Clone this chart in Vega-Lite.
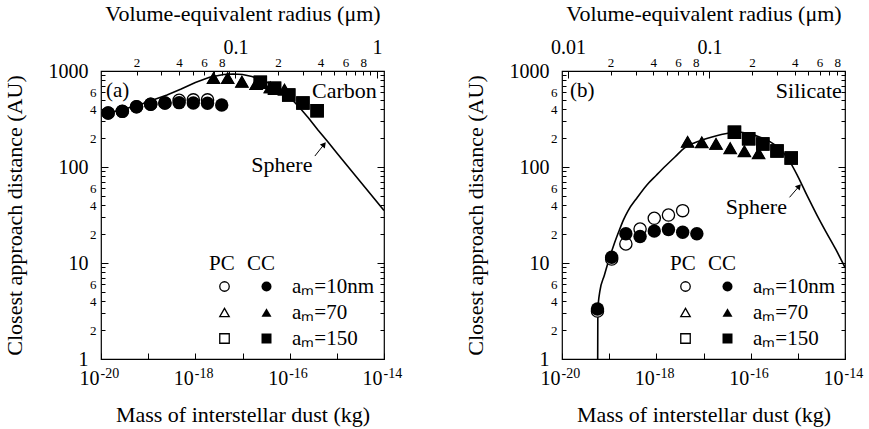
{
  "$schema": "https://vega.github.io/schema/vega-lite/v6.json",
  "padding": {"left": 2, "top": 1, "right": 2, "bottom": 2},
  "config": {
    "font": "Liberation Serif",
    "view": {"stroke": "black", "strokeWidth": 1.2},
    "axis": {"labelFont": "Liberation Serif", "titleFont": "Liberation Serif", "labelColor": "black", "titleColor": "black", "tickColor": "black", "titleFontWeight": "normal", "titleFontSize": 22, "grid": false, "domain": false, "tickWidth": 1},
    "legend": {"labelFont": "Liberation Serif", "titleFont": "Liberation Serif", "titleFontWeight": "normal", "titleFontSize": 21, "labelFontSize": 21, "labelColor": "black", "titleColor": "black"},
    "text": {"font": "Liberation Serif", "fontSize": 22, "color": "black"}
  },
  "datasets": {
    "sphereA": [
      {"mass": 1.416e-20, "distance": 365}, {"mass": 3.16e-20, "distance": 402}, {"mass": 6.31e-20, "distance": 443},
      {"mass": 1.26e-19, "distance": 499}, {"mass": 2.51e-19, "distance": 562}, {"mass": 5.01e-19, "distance": 649},
      {"mass": 1e-18, "distance": 759}, {"mass": 2e-18, "distance": 860}, {"mass": 3.98e-18, "distance": 920},
      {"mass": 6.31e-18, "distance": 931}, {"mass": 1e-17, "distance": 920}, {"mass": 1.585e-17, "distance": 877},
      {"mass": 2.51e-17, "distance": 815}, {"mass": 3.98e-17, "distance": 733}, {"mass": 6.31e-17, "distance": 645},
      {"mass": 1e-16, "distance": 535}, {"mass": 1.585e-16, "distance": 422}, {"mass": 2.51e-16, "distance": 324},
      {"mass": 3.98e-16, "distance": 243}, {"mass": 6.31e-16, "distance": 185}, {"mass": 1e-15, "distance": 140},
      {"mass": 1.585e-15, "distance": 106}, {"mass": 2.51e-15, "distance": 80.5}, {"mass": 3.98e-15, "distance": 61},
      {"mass": 6.31e-15, "distance": 46.4}, {"mass": 1e-14, "distance": 35.2}
    ],
    "sphereB": [
      {"mass": 5.69e-20, "distance": 0.5}, {"mass": 5.75e-20, "distance": 3.2}, {"mass": 6.31e-20, "distance": 5.0},
      {"mass": 7.94e-20, "distance": 7.5}, {"mass": 1e-19, "distance": 11.0}, {"mass": 1.26e-19, "distance": 15.5},
      {"mass": 1.585e-19, "distance": 21}, {"mass": 2e-19, "distance": 28}, {"mass": 2.51e-19, "distance": 35},
      {"mass": 3.98e-19, "distance": 48.4}, {"mass": 6.31e-19, "distance": 65}, {"mass": 1e-18, "distance": 82},
      {"mass": 1.585e-18, "distance": 103}, {"mass": 2.51e-18, "distance": 128}, {"mass": 3.98e-18, "distance": 158},
      {"mass": 6.31e-18, "distance": 178}, {"mass": 1e-17, "distance": 193}, {"mass": 1.585e-17, "distance": 207},
      {"mass": 2.51e-17, "distance": 219}, {"mass": 3.98e-17, "distance": 229}, {"mass": 5.01e-17, "distance": 232},
      {"mass": 6.31e-17, "distance": 230}, {"mass": 1e-16, "distance": 220}, {"mass": 1.585e-16, "distance": 204},
      {"mass": 2.51e-16, "distance": 185}, {"mass": 3.98e-16, "distance": 157}, {"mass": 6.31e-16, "distance": 120},
      {"mass": 1e-15, "distance": 80}, {"mass": 1.585e-15, "distance": 50}, {"mass": 2.51e-15, "distance": 32},
      {"mass": 3.98e-15, "distance": 21}, {"mass": 6.31e-15, "distance": 14}, {"mass": 1e-14, "distance": 9.0}
    ],
    "pointsA": [
      {"type": "PC", "am": "aₘ=10nm", "mass": 1.416e-20, "distance": 365},
      {"type": "PC", "am": "aₘ=10nm", "mass": 2.831e-20, "distance": 380},
      {"type": "PC", "am": "aₘ=10nm", "mass": 5.662e-20, "distance": 425},
      {"type": "PC", "am": "aₘ=10nm", "mass": 1.132e-19, "distance": 450},
      {"type": "PC", "am": "aₘ=10nm", "mass": 2.265e-19, "distance": 464},
      {"type": "PC", "am": "aₘ=10nm", "mass": 4.53e-19, "distance": 495},
      {"type": "PC", "am": "aₘ=10nm", "mass": 9.06e-19, "distance": 500},
      {"type": "PC", "am": "aₘ=10nm", "mass": 1.812e-18, "distance": 500},
      {"type": "PC", "am": "aₘ=70", "mass": 2.427e-18, "distance": 845},
      {"type": "PC", "am": "aₘ=70", "mass": 4.853e-18, "distance": 845},
      {"type": "PC", "am": "aₘ=70", "mass": 9.705e-18, "distance": 774},
      {"type": "PC", "am": "aₘ=70", "mass": 1.941e-17, "distance": 732},
      {"type": "PC", "am": "aₘ=70", "mass": 3.882e-17, "distance": 676},
      {"type": "PC", "am": "aₘ=70", "mass": 7.763e-17, "distance": 639},
      {"type": "PC", "am": "aₘ=150", "mass": 2.388e-17, "distance": 762},
      {"type": "PC", "am": "aₘ=150", "mass": 4.775e-17, "distance": 661},
      {"type": "PC", "am": "aₘ=150", "mass": 9.55e-17, "distance": 562},
      {"type": "PC", "am": "aₘ=150", "mass": 1.91e-16, "distance": 464},
      {"type": "PC", "am": "aₘ=150", "mass": 3.82e-16, "distance": 386},
      {"type": "CC", "am": "aₘ=10nm", "mass": 1.416e-20, "distance": 365},
      {"type": "CC", "am": "aₘ=10nm", "mass": 2.831e-20, "distance": 380},
      {"type": "CC", "am": "aₘ=10nm", "mass": 5.662e-20, "distance": 425},
      {"type": "CC", "am": "aₘ=10nm", "mass": 1.132e-19, "distance": 450},
      {"type": "CC", "am": "aₘ=10nm", "mass": 2.265e-19, "distance": 464},
      {"type": "CC", "am": "aₘ=10nm", "mass": 4.53e-19, "distance": 468},
      {"type": "CC", "am": "aₘ=10nm", "mass": 9.06e-19, "distance": 464},
      {"type": "CC", "am": "aₘ=10nm", "mass": 1.812e-18, "distance": 461},
      {"type": "CC", "am": "aₘ=10nm", "mass": 3.624e-18, "distance": 443},
      {"type": "CC", "am": "aₘ=70", "mass": 2.427e-18, "distance": 845},
      {"type": "CC", "am": "aₘ=70", "mass": 4.853e-18, "distance": 845},
      {"type": "CC", "am": "aₘ=70", "mass": 9.705e-18, "distance": 774},
      {"type": "CC", "am": "aₘ=70", "mass": 1.941e-17, "distance": 732},
      {"type": "CC", "am": "aₘ=70", "mass": 3.882e-17, "distance": 676},
      {"type": "CC", "am": "aₘ=70", "mass": 7.763e-17, "distance": 639},
      {"type": "CC", "am": "aₘ=150", "mass": 2.388e-17, "distance": 762},
      {"type": "CC", "am": "aₘ=150", "mass": 4.775e-17, "distance": 661},
      {"type": "CC", "am": "aₘ=150", "mass": 9.55e-17, "distance": 562},
      {"type": "CC", "am": "aₘ=150", "mass": 1.91e-16, "distance": 464},
      {"type": "CC", "am": "aₘ=150", "mass": 3.82e-16, "distance": 386}
    ],
    "pointsB": [
      {"type": "PC", "am": "aₘ=10nm", "mass": 5.65e-20, "distance": 3.16},
      {"type": "PC", "am": "aₘ=10nm", "mass": 1.13e-19, "distance": 11.0},
      {"type": "PC", "am": "aₘ=10nm", "mass": 2.26e-19, "distance": 15.8},
      {"type": "PC", "am": "aₘ=10nm", "mass": 4.52e-19, "distance": 22.6},
      {"type": "PC", "am": "aₘ=10nm", "mass": 9.04e-19, "distance": 29.2},
      {"type": "PC", "am": "aₘ=10nm", "mass": 1.808e-18, "distance": 31.6},
      {"type": "PC", "am": "aₘ=10nm", "mass": 3.616e-18, "distance": 35.1},
      {"type": "PC", "am": "aₘ=70", "mass": 4.603e-18, "distance": 183},
      {"type": "PC", "am": "aₘ=70", "mass": 9.2e-18, "distance": 181},
      {"type": "PC", "am": "aₘ=70", "mass": 1.841e-17, "distance": 174},
      {"type": "PC", "am": "aₘ=70", "mass": 3.681e-17, "distance": 157},
      {"type": "PC", "am": "aₘ=70", "mass": 7.36e-17, "distance": 146},
      {"type": "PC", "am": "aₘ=70", "mass": 1.472e-16, "distance": 139},
      {"type": "PC", "am": "aₘ=150", "mass": 4.53e-17, "distance": 230},
      {"type": "PC", "am": "aₘ=150", "mass": 9.06e-17, "distance": 197},
      {"type": "PC", "am": "aₘ=150", "mass": 1.81e-16, "distance": 174},
      {"type": "PC", "am": "aₘ=150", "mass": 3.62e-16, "distance": 147},
      {"type": "PC", "am": "aₘ=150", "mass": 7.24e-16, "distance": 124},
      {"type": "CC", "am": "aₘ=10nm", "mass": 5.65e-20, "distance": 3.32},
      {"type": "CC", "am": "aₘ=10nm", "mass": 1.13e-19, "distance": 11.5},
      {"type": "CC", "am": "aₘ=10nm", "mass": 2.26e-19, "distance": 20.2},
      {"type": "CC", "am": "aₘ=10nm", "mass": 4.52e-19, "distance": 18.9},
      {"type": "CC", "am": "aₘ=10nm", "mass": 9.04e-19, "distance": 21.5},
      {"type": "CC", "am": "aₘ=10nm", "mass": 1.808e-18, "distance": 22.3},
      {"type": "CC", "am": "aₘ=10nm", "mass": 3.616e-18, "distance": 20.9},
      {"type": "CC", "am": "aₘ=10nm", "mass": 7.23e-18, "distance": 20.2},
      {"type": "CC", "am": "aₘ=70", "mass": 4.603e-18, "distance": 183},
      {"type": "CC", "am": "aₘ=70", "mass": 9.2e-18, "distance": 181},
      {"type": "CC", "am": "aₘ=70", "mass": 1.841e-17, "distance": 174},
      {"type": "CC", "am": "aₘ=70", "mass": 3.681e-17, "distance": 157},
      {"type": "CC", "am": "aₘ=70", "mass": 7.36e-17, "distance": 146},
      {"type": "CC", "am": "aₘ=70", "mass": 1.472e-16, "distance": 139},
      {"type": "CC", "am": "aₘ=150", "mass": 4.53e-17, "distance": 230},
      {"type": "CC", "am": "aₘ=150", "mass": 9.06e-17, "distance": 197},
      {"type": "CC", "am": "aₘ=150", "mass": 1.81e-16, "distance": 174},
      {"type": "CC", "am": "aₘ=150", "mass": 3.62e-16, "distance": 147},
      {"type": "CC", "am": "aₘ=150", "mass": 7.24e-16, "distance": 124}
    ]
  },
  "hconcat": [
    {
      "width": 283, "height": 288,
      "layer": [
        {
          "layer": [
            {
              "data": {"name": "sphereA"},
              "mark": {"type": "line", "color": "black", "strokeWidth": 1.6, "clip": true},
              "encoding": {
                "x": {"field": "mass", "type": "quantitative", "scale": {"type": "log", "domain": [1e-20, 1e-14], "nice": false},
                  "axis": {"orient": "bottom", "title": "Mass of interstellar dust (kg)", "values": [1e-20, 1e-19, 1e-18, 1e-17, 1e-16, 1e-15, 1e-14],
                    "labelExpr": "abs(round(log(datum.value)/LN10)) % 2 == 0 ? '10' : ''",
                    "labelAlign": "right", "labelOffset": -2,
                    "labelFontSize": 20, "tickSize": -6, "labelPadding": 15, "titlePadding": 16, "labelFlush": false, "labelOverlap": false}},
                "y": {"field": "distance", "type": "quantitative", "scale": {"type": "log", "domain": [1, 1000], "nice": false},
                  "axis": {"orient": "left", "title": "Closest approach distance (AU)",
                    "values": [1, 2, 3, 4, 5, 6, 7, 8, 9, 10, 20, 30, 40, 50, 60, 70, 80, 90, 100, 200, 300, 400, 500, 600, 700, 800, 900, 1000],
                    "labelExpr": "round(datum.value/pow(10,floor(log(datum.value)/LN10+1e-6)))==1 ? format(datum.value,'d') : (indexof([2,4,6], round(datum.value/pow(10,floor(log(datum.value)/LN10+1e-6))))>=0 ? ''+round(datum.value/pow(10,floor(log(datum.value)/LN10+1e-6))) : '')",
                    "labelFontSize": {"condition": {"test": "round(datum.value/pow(10,floor(log(datum.value)/LN10+1e-6)))==1", "value": 20}, "value": 13},
                    "tickSize": {"condition": {"test": "round(datum.value/pow(10,floor(log(datum.value)/LN10+1e-6)))==1", "value": -7}, "value": -4},
                    "labelPadding": {"condition": {"test": "round(datum.value/pow(10,floor(log(datum.value)/LN10+1e-6)))==1", "value": 20}, "value": 9},
                    "titlePadding": 22, "labelFlush": false, "labelOverlap": false}}
              }
            },
            {
              "data": {"name": "pointsA"},
              "transform": [{"filter": "datum.type === 'PC'"}],
              "mark": {"type": "point", "filled": false, "fill": "white", "stroke": "black", "strokeWidth": 1.3, "opacity": 1, "size": 150},
              "encoding": {
                "x": {"field": "mass", "type": "quantitative"},
                "y": {"field": "distance", "type": "quantitative"},
                "shape": {"field": "am", "type": "nominal", "scale": {"domain": ["aₘ=10nm", "aₘ=70", "aₘ=150"], "range": ["circle", "triangle-up", "square"]},
                  "legend": {"orient": "none", "legendX": 108, "legendY": 182, "title": "PC", "labelExpr": "''", "symbolSize": 90, "symbolOffset": 5, "rowPadding": 4, "titlePadding": 2, "symbolStrokeWidth": 1.3}}
              }
            },
            {
              "data": {"name": "pointsA"},
              "transform": [{"filter": "datum.type === 'CC'"}],
              "mark": {"type": "point", "filled": true, "fill": "black", "strokeWidth": 0, "opacity": 1, "size": 180},
              "encoding": {
                "x": {"field": "mass", "type": "quantitative"},
                "y": {"field": "distance", "type": "quantitative"},
                "shape": {"field": "am", "type": "nominal", "scale": {"domain": ["aₘ=10nm", "aₘ=70", "aₘ=150"], "range": ["circle", "triangle-up", "square"]},
                  "legend": {"orient": "none", "legendX": 146, "legendY": 182, "title": "CC", "symbolSize": 100, "symbolOffset": 9, "labelOffset": 15, "rowPadding": 4, "titlePadding": 2}}
              }
            },
            {
              "data": {"values": [{}]},
              "mark": {"type": "text", "align": "left", "baseline": "middle", "fontSize": 21},
              "encoding": {"x": {"datum": 1.277e-20, "type": "quantitative"}, "y": {"datum": 619, "type": "quantitative"}, "text": {"value": "(a)"}}
            },
            {
              "data": {"values": [{}]},
              "mark": {"type": "text", "align": "right", "baseline": "middle"},
              "encoding": {"x": {"datum": 7.03e-15, "type": "quantitative"}, "y": {"datum": 619, "type": "quantitative"}, "text": {"value": "Carbon"}}
            },
            {
              "data": {"values": [{}]},
              "mark": {"type": "text", "align": "center", "baseline": "middle"},
              "encoding": {"x": {"datum": 6.84e-17, "type": "quantitative"}, "y": {"datum": 105, "type": "quantitative"}, "text": {"value": "Sphere"}}
            },
            {
              "data": {"values": [{}]},
              "mark": {"type": "rule", "color": "black", "strokeWidth": 1},
              "encoding": {"x": {"datum": 3.42e-16, "type": "quantitative"}, "y": {"datum": 130, "type": "quantitative"}, "x2": {"datum": 5.36e-16}, "y2": {"datum": 172}}
            },
            {
              "data": {"values": [{}]},
              "mark": {"type": "point", "shape": "triangle-up", "filled": true, "color": "black", "opacity": 1, "size": 40, "angle": 38},
              "encoding": {"x": {"datum": 5.36e-16, "type": "quantitative"}, "y": {"datum": 172, "type": "quantitative"}}
            }
          ],
          "resolve": {"legend": {"shape": "independent"}}
        },
        {
          "data": {"values": [{"r": 0.1, "distance": 10}]},
          "mark": {"type": "point", "opacity": 0},
          "encoding": {
            "x": {"field": "r", "type": "quantitative", "scale": {"type": "log", "domain": [0.01122, 1.122], "nice": false},
              "axis": {"orient": "top", "title": "Volume-equivalent radius (μm)",
                "values": [0.02, 0.03, 0.04, 0.05, 0.06, 0.07, 0.08, 0.09, 0.1, 0.2, 0.3, 0.4, 0.5, 0.6, 0.7, 0.8, 0.9, 1],
                "labelExpr": "round(datum.value/pow(10,floor(log(datum.value)/LN10+1e-6)))==1 ? ''+datum.value : (indexof([2,4,6,8], round(datum.value/pow(10,floor(log(datum.value)/LN10+1e-6))))>=0 ? ''+round(datum.value/pow(10,floor(log(datum.value)/LN10+1e-6))) : '')",
                "labelFontSize": {"condition": {"test": "round(datum.value/pow(10,floor(log(datum.value)/LN10+1e-6)))==1", "value": 20}, "value": 13},
                "tickSize": {"condition": {"test": "round(datum.value/pow(10,floor(log(datum.value)/LN10+1e-6)))==1", "value": -7}, "value": -4},
                "labelPadding": {"condition": {"test": "round(datum.value/pow(10,floor(log(datum.value)/LN10+1e-6)))==1", "value": 21}, "value": 6},
                "titlePadding": 12, "labelFlush": false, "labelOverlap": false}},
            "y": {"field": "distance", "type": "quantitative", "scale": {"type": "log", "domain": [1, 1000], "nice": false},
              "axis": {"orient": "right", "title": null, "labels": false,
                "values": [1, 2, 3, 4, 5, 6, 7, 8, 9, 10, 20, 30, 40, 50, 60, 70, 80, 90, 100, 200, 300, 400, 500, 600, 700, 800, 900, 1000],
                "tickSize": {"condition": {"test": "round(datum.value/pow(10,floor(log(datum.value)/LN10+1e-6)))==1", "value": -7}, "value": -4}}}
          }
        },
        {
          "data": {"values": [{"mass": 1e-18}]},
          "mark": {"type": "point", "opacity": 0},
          "encoding": {
            "x": {"field": "mass", "type": "quantitative", "scale": {"type": "log", "domain": [1e-20, 1e-14], "nice": false},
              "axis": {"orient": "bottom", "title": null, "values": [1e-20, 1e-18, 1e-16, 1e-14], "ticks": false, "tickSize": 0,
                "labelExpr": "'-' + (-round(log(datum.value)/LN10))", "labelFontSize": 14, "labelAlign": "left", "labelOffset": -1, "labelPadding": 7,
                "labelFlush": false, "labelOverlap": false}}
          }
        }
      ],
      "resolve": {"scale": {"x": "independent"}, "axis": {"y": "independent"}, "legend": {"shape": "independent"}}
    },
    {
      "width": 283, "height": 288,
      "layer": [
        {
          "layer": [
            {
              "data": {"name": "sphereB"},
              "mark": {"type": "line", "color": "black", "strokeWidth": 1.6, "clip": true, "interpolate": "monotone"},
              "encoding": {
                "x": {"field": "mass", "type": "quantitative", "scale": {"type": "log", "domain": [1e-20, 1e-14], "nice": false},
                  "axis": {"orient": "bottom", "title": "Mass of interstellar dust (kg)", "values": [1e-20, 1e-19, 1e-18, 1e-17, 1e-16, 1e-15, 1e-14],
                    "labelExpr": "abs(round(log(datum.value)/LN10)) % 2 == 0 ? '10' : ''",
                    "labelAlign": "right", "labelOffset": -2,
                    "labelFontSize": 20, "tickSize": -6, "labelPadding": 15, "titlePadding": 16, "labelFlush": false, "labelOverlap": false}},
                "y": {"field": "distance", "type": "quantitative", "scale": {"type": "log", "domain": [1, 1000], "nice": false},
                  "axis": {"orient": "left", "title": "Closest approach distance (AU)",
                    "values": [1, 2, 3, 4, 5, 6, 7, 8, 9, 10, 20, 30, 40, 50, 60, 70, 80, 90, 100, 200, 300, 400, 500, 600, 700, 800, 900, 1000],
                    "labelExpr": "round(datum.value/pow(10,floor(log(datum.value)/LN10+1e-6)))==1 ? format(datum.value,'d') : (indexof([2,4,6], round(datum.value/pow(10,floor(log(datum.value)/LN10+1e-6))))>=0 ? ''+round(datum.value/pow(10,floor(log(datum.value)/LN10+1e-6))) : '')",
                    "labelFontSize": {"condition": {"test": "round(datum.value/pow(10,floor(log(datum.value)/LN10+1e-6)))==1", "value": 20}, "value": 13},
                    "tickSize": {"condition": {"test": "round(datum.value/pow(10,floor(log(datum.value)/LN10+1e-6)))==1", "value": -7}, "value": -4},
                    "labelPadding": {"condition": {"test": "round(datum.value/pow(10,floor(log(datum.value)/LN10+1e-6)))==1", "value": 20}, "value": 9},
                    "titlePadding": 22, "labelFlush": false, "labelOverlap": false}}
              }
            },
            {
              "data": {"name": "pointsB"},
              "transform": [{"filter": "datum.type === 'PC'"}],
              "mark": {"type": "point", "filled": false, "fill": "white", "stroke": "black", "strokeWidth": 1.3, "opacity": 1, "size": 150},
              "encoding": {
                "x": {"field": "mass", "type": "quantitative"},
                "y": {"field": "distance", "type": "quantitative"},
                "shape": {"field": "am", "type": "nominal", "scale": {"domain": ["aₘ=10nm", "aₘ=70", "aₘ=150"], "range": ["circle", "triangle-up", "square"]},
                  "legend": {"orient": "none", "legendX": 108, "legendY": 182, "title": "PC", "labelExpr": "''", "symbolSize": 90, "symbolOffset": 5, "rowPadding": 4, "titlePadding": 2, "symbolStrokeWidth": 1.3}}
              }
            },
            {
              "data": {"name": "pointsB"},
              "transform": [{"filter": "datum.type === 'CC'"}],
              "mark": {"type": "point", "filled": true, "fill": "black", "strokeWidth": 0, "opacity": 1, "size": 180},
              "encoding": {
                "x": {"field": "mass", "type": "quantitative"},
                "y": {"field": "distance", "type": "quantitative"},
                "shape": {"field": "am", "type": "nominal", "scale": {"domain": ["aₘ=10nm", "aₘ=70", "aₘ=150"], "range": ["circle", "triangle-up", "square"]},
                  "legend": {"orient": "none", "legendX": 146, "legendY": 182, "title": "CC", "symbolSize": 100, "symbolOffset": 9, "labelOffset": 15, "rowPadding": 4, "titlePadding": 2}}
              }
            },
            {
              "data": {"values": [{}]},
              "mark": {"type": "text", "align": "left", "baseline": "middle", "fontSize": 21},
              "encoding": {"x": {"datum": 1.48e-20, "type": "quantitative"}, "y": {"datum": 619, "type": "quantitative"}, "text": {"value": "(b)"}}
            },
            {
              "data": {"values": [{}]},
              "mark": {"type": "text", "align": "right", "baseline": "middle"},
              "encoding": {"x": {"datum": 8.55e-15, "type": "quantitative"}, "y": {"datum": 619, "type": "quantitative"}, "text": {"value": "Silicate"}}
            },
            {
              "data": {"values": [{}]},
              "mark": {"type": "text", "align": "center", "baseline": "middle"},
              "encoding": {"x": {"datum": 1.32e-16, "type": "quantitative"}, "y": {"datum": 38.3, "type": "quantitative"}, "text": {"value": "Sphere"}}
            },
            {
              "data": {"values": [{}]},
              "mark": {"type": "rule", "color": "black", "strokeWidth": 1},
              "encoding": {"x": {"datum": 6.67e-16, "type": "quantitative"}, "y": {"datum": 48.3, "type": "quantitative"}, "x2": {"datum": 1.064e-15}, "y2": {"datum": 63}}
            },
            {
              "data": {"values": [{}]},
              "mark": {"type": "point", "shape": "triangle-up", "filled": true, "color": "black", "opacity": 1, "size": 40, "angle": 41},
              "encoding": {"x": {"datum": 1.064e-15, "type": "quantitative"}, "y": {"datum": 63, "type": "quantitative"}}
            }
          ],
          "resolve": {"legend": {"shape": "independent"}}
        },
        {
          "data": {"values": [{"r": 0.1, "distance": 10}]},
          "mark": {"type": "point", "opacity": 0},
          "encoding": {
            "x": {"field": "r", "type": "quantitative", "scale": {"type": "log", "domain": [0.00907, 0.907], "nice": false},
              "axis": {"orient": "top", "title": "Volume-equivalent radius (μm)",
                "values": [0.01, 0.02, 0.03, 0.04, 0.05, 0.06, 0.07, 0.08, 0.09, 0.1, 0.2, 0.3, 0.4, 0.5, 0.6, 0.7, 0.8, 0.9],
                "labelExpr": "round(datum.value/pow(10,floor(log(datum.value)/LN10+1e-6)))==1 ? ''+datum.value : (indexof([2,4,6,8], round(datum.value/pow(10,floor(log(datum.value)/LN10+1e-6))))>=0 ? ''+round(datum.value/pow(10,floor(log(datum.value)/LN10+1e-6))) : '')",
                "labelFontSize": {"condition": {"test": "round(datum.value/pow(10,floor(log(datum.value)/LN10+1e-6)))==1", "value": 20}, "value": 13},
                "tickSize": {"condition": {"test": "round(datum.value/pow(10,floor(log(datum.value)/LN10+1e-6)))==1", "value": -7}, "value": -4},
                "labelPadding": {"condition": {"test": "round(datum.value/pow(10,floor(log(datum.value)/LN10+1e-6)))==1", "value": 21}, "value": 6},
                "titlePadding": 12, "labelFlush": false, "labelOverlap": false}},
            "y": {"field": "distance", "type": "quantitative", "scale": {"type": "log", "domain": [1, 1000], "nice": false},
              "axis": {"orient": "right", "title": null, "labels": false,
                "values": [1, 2, 3, 4, 5, 6, 7, 8, 9, 10, 20, 30, 40, 50, 60, 70, 80, 90, 100, 200, 300, 400, 500, 600, 700, 800, 900, 1000],
                "tickSize": {"condition": {"test": "round(datum.value/pow(10,floor(log(datum.value)/LN10+1e-6)))==1", "value": -7}, "value": -4}}}
          }
        },
        {
          "data": {"values": [{"mass": 1e-18}]},
          "mark": {"type": "point", "opacity": 0},
          "encoding": {
            "x": {"field": "mass", "type": "quantitative", "scale": {"type": "log", "domain": [1e-20, 1e-14], "nice": false},
              "axis": {"orient": "bottom", "title": null, "values": [1e-20, 1e-18, 1e-16, 1e-14], "ticks": false, "tickSize": 0,
                "labelExpr": "'-' + (-round(log(datum.value)/LN10))", "labelFontSize": 14, "labelAlign": "left", "labelOffset": -1, "labelPadding": 7,
                "labelFlush": false, "labelOverlap": false}}
          }
        }
      ],
      "resolve": {"scale": {"x": "independent"}, "axis": {"y": "independent"}, "legend": {"shape": "independent"}}
    }
  ],
  "spacing": 60,
  "resolve": {"scale": {"shape": "independent"}, "legend": {"shape": "independent"}}
}
